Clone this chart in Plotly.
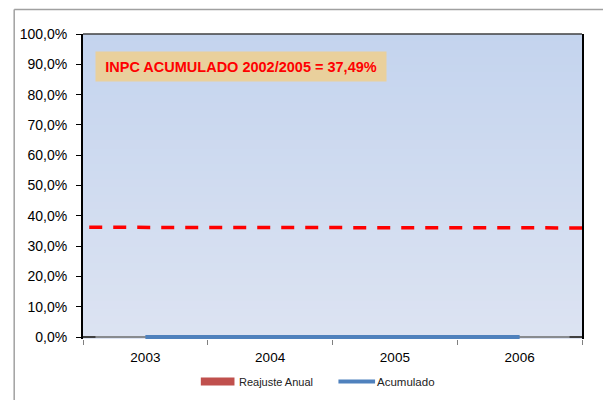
import plotly.graph_objects as go

years = [2003, 2004, 2005, 2006]
reajuste_anual = [0.0, 0.0, 0.0, 0.0]
acumulado = [0.0, 0.0, 0.0, 0.0]
inpc_ref = [36.2, 36.0]
inpc_ref_span = [2002.55, 2006.5]
y_ticks = [0, 10, 20, 30, 40, 50, 60, 70, 80, 90, 100]
y_tick_labels = [f"{v:.1f}".replace(".", ",") + "%" for v in y_ticks]
title_box = "INPC ACUMULADO 2002/2005 = 37,49%"

OFF = 8  # page body margin
W, H = 611 - OFF, 400 - OFF
# reference pixel positions (page coords)
PL, PR, PT, PB0 = 78, 582, 34, 337   # PB0 = y of value 0
PB = PB0 + 2                           # plot area extends 2px below zero
L, R, T, B = PL - OFF, PR - OFF, PT - OFF, PB - OFF
ppu = (PB0 - PT) / 100.0
ymin = -(PB - PB0) / ppu

def px(x):
    return (x - PL) / (PR - PL)

def py(y):
    return (PB - y) / (PB - PT)

fig = go.Figure()
fig.add_trace(go.Bar(x=years, y=reajuste_anual, name="Reajuste Anual",
                     marker_color="#C0504D", showlegend=False))
fig.add_trace(go.Scatter(x=years, y=acumulado, name="Acumulado", mode="lines",
                         line=dict(color="#4F81BD", width=4), showlegend=False))
fig.add_trace(go.Scatter(x=inpc_ref_span, y=inpc_ref, mode="lines",
                         line=dict(color="#FF0000", width=3.5, dash="13px,11px"),
                         showlegend=False, hoverinfo="skip"))

shapes = []
# gradient plot background
top = (196, 212, 238)
bot = (220, 227, 242)
n = 40
for i in range(n):
    f = i / (n - 1)
    c = tuple(int(round(top[k] + (bot[k] - top[k]) * f)) for k in range(3))
    shapes.append(dict(type="rect", xref="paper", yref="paper", x0=0, x1=1,
                       y0=max(0, 1 - (i + 1) / n - 0.006), y1=1 - i / n, layer="below",
                       line=dict(width=0), fillcolor=f"rgb{c}"))
# top border of plot area
shapes.append(dict(type="line", xref="paper", yref="paper", x0=0, x1=1, y0=1, y1=1,
                   line=dict(color="#404040", width=1.5)))
# outer chart frame
shapes.append(dict(type="line", xref="paper", yref="paper", x0=px(8.5), x1=px(611),
                   y0=py(9.5), y1=py(9.5), line=dict(color="#A0A0A0", width=1.5)))
shapes.append(dict(type="line", xref="paper", yref="paper", x0=px(8.5), x1=px(8.5),
                   y0=py(9.5), y1=py(400), line=dict(color="#A0A0A0", width=1.5)))
# legend symbols
shapes.append(dict(type="rect", xref="paper", yref="paper", x0=px(197), x1=px(231),
                   y0=py(385.5), y1=py(377.5), line=dict(width=0), fillcolor="#C0504D"))
shapes.append(dict(type="line", xref="paper", yref="paper", x0=px(336), x1=px(373),
                   y0=py(381.5), y1=py(381.5), line=dict(color="#4F81BD", width=4)))

annotations = [
    dict(text=f"<b>{title_box}</b>", xref="paper", yref="paper",
         x=px(238), y=py(66.5), showarrow=False, xanchor="center", yanchor="middle",
         font=dict(family="Liberation Sans", size=14.5, color="#FF0000"),
         bgcolor="#E9D09C", width=284, height=23, borderpad=3),
    dict(text="Reajuste Anual", xref="paper", yref="paper", x=px(234), y=py(381.5),
         xanchor="left", yanchor="middle", showarrow=False,
         font=dict(family="Liberation Sans", size=11, color="#222222")),
    dict(text="Acumulado", xref="paper", yref="paper", x=px(373), y=py(381.5),
         xanchor="left", yanchor="middle", showarrow=False,
         font=dict(family="Liberation Sans", size=11.5, color="#222222")),
]

fig.update_layout(
    width=W, height=H,
    margin=dict(l=L, r=W - R, t=T, b=H - B, pad=0),
    paper_bgcolor="white", plot_bgcolor="rgba(0,0,0,0)",
    shapes=shapes, annotations=annotations, showlegend=False,
    font=dict(family="Liberation Sans", color="#000000"),
    xaxis=dict(range=[2002.5, 2006.5], tickvals=years, ticktext=[str(y) for y in years],
               ticks="", showgrid=False, zeroline=False, showline=False,
               tickfont=dict(size=13.5), ticklabelstandoff=8,
               minor=dict(tickvals=[2002.5, 2003.5, 2004.5, 2005.5, 2006.5],
                          ticks="outside", ticklen=5, tickcolor="#808080", tickwidth=1,
                          showgrid=False)),
    yaxis=dict(range=[ymin, 100], tickvals=y_ticks, ticktext=y_tick_labels,
               ticks="outside", ticklen=5, tickcolor="#000000", tickwidth=1,
               showgrid=False, zeroline=True, zerolinecolor="#404040", zerolinewidth=1.5,
               layer="below traces",
               showline=True, linecolor="#000000", linewidth=2, mirror=True,
               tickfont=dict(size=14), ticklabelstandoff=6),
)

fig.write_html("out.html")
